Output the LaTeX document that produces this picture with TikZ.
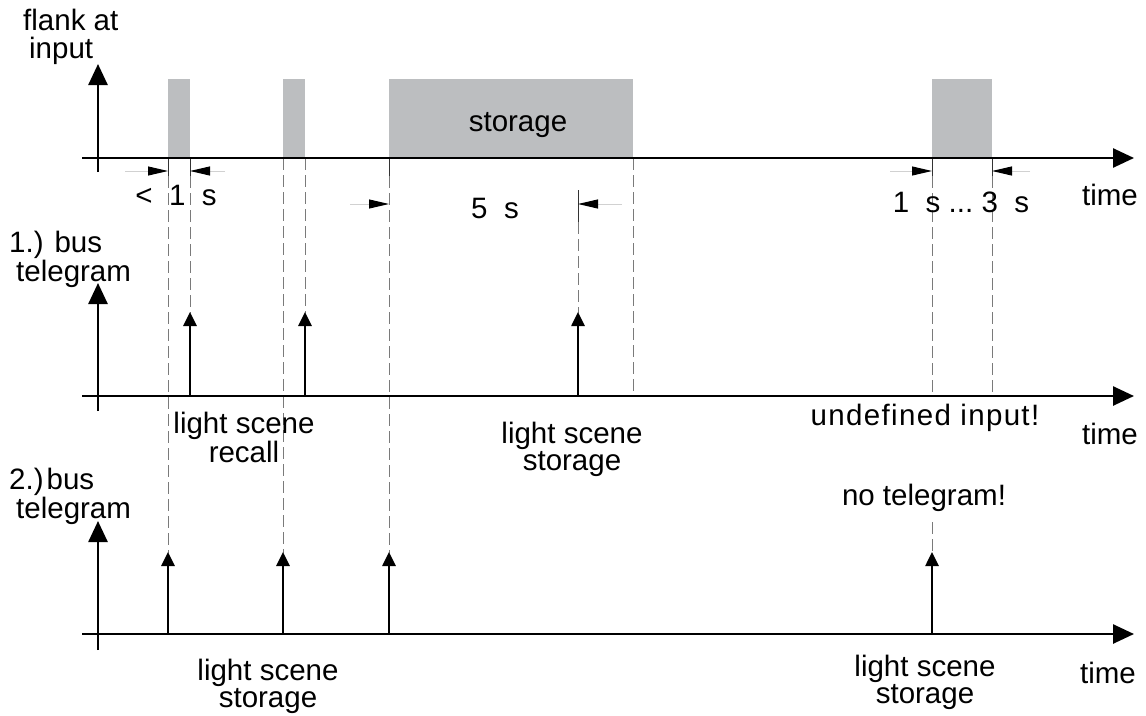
\documentclass[tikz,border=0pt]{standalone}
\usepackage{fontspec}
\setmainfont{Liberation Sans}
\usetikzlibrary{arrows.meta}
\definecolor{pulsegray}{HTML}{BCBEC0}
\definecolor{guidegray}{HTML}{7A7A7A}
\begin{document}
\begin{tikzpicture}[x=1pt,y=-1pt,
  axis/.style={line width=2.6pt,-{Triangle[length=21pt,width=19pt]}},
  spike/.style={line width=2.6pt,-{Triangle[length=14pt,width=13pt]}},
  pulse/.style={fill=pulsegray,draw=none},
  guide/.style={guidegray,line width=0.9pt,dash pattern=on 12pt off 5pt},
  tick/.style={black!80,line width=0.9pt},
  dimarrow/.style={black!18,line width=1pt,-{Triangle[length=20pt,width=9pt,color=black]}},
  lbl/.style={font=\fontsize{29.5}{27}\selectfont,align=center,inner sep=0pt},
  lblw/.style={font=\fontsize{29.5}{27}\selectfont,anchor=base west,inner sep=0pt},
]
\useasboundingbox (0,0) rectangle (1146,715);

% pulses
\fill[pulse] (168,79) rectangle (190,158);
\fill[pulse] (283,79) rectangle (305,158);
\fill[pulse] (389,79) rectangle (633,158);
\fill[pulse] (932,79) rectangle (992,158);
\node[lbl,anchor=base] (stor) at (518,131) {storage};

% guide lines
\draw[guide] (168,176) -- (168,553);
\draw[guide] (190,176) -- (190,313);
\draw[guide] (283,158) -- (283,553);
\draw[guide] (305,158) -- (305,313);
\draw[guide] (389,176) -- (389,553);
\draw[guide] (578,222) -- (578,313);
\draw[guide] (633,158) -- (633,396);
\draw[guide] (932,176) -- (932,396);
\draw[guide] (932,522) -- (932,553);
\draw[guide] (992,176) -- (992,396);

% ticks
\draw[tick] (168,158) -- (168,176);
\draw[tick] (190,158) -- (190,176);
\draw[tick] (389,158) -- (389,176);
\draw[tick] (578,190) -- (578,222);
\draw[tick] (932,158) -- (932,176);
\draw[tick] (992,158) -- (992,176);

% dimension arrows
\coordinate (d1a) at (125,171); \coordinate (d1b) at (168,171);
\coordinate (d2a) at (225,171); \coordinate (d2b) at (190,171);
\coordinate (d3a) at (350,204); \coordinate (d3b) at (389,204);
\coordinate (d4a) at (622,204); \coordinate (d4b) at (578,204);
\coordinate (d5a) at (890,171); \coordinate (d5b) at (932,171);
\coordinate (d6a) at (1030,171); \coordinate (d6b) at (992,171);
\foreach \i in {1,...,6} \draw[dimarrow] (d\i a) -- (d\i b);

% axes
\coordinate (h1a) at (82,158);  \coordinate (h1b) at (1134,158);
\coordinate (h2a) at (82,396);  \coordinate (h2b) at (1134,396);
\coordinate (h3a) at (82,634);  \coordinate (h3b) at (1134,634);
\coordinate (v1a) at (98,172);  \coordinate (v1b) at (98,64);
\coordinate (v2a) at (98,411);  \coordinate (v2b) at (98,283);
\coordinate (v3a) at (98,650);  \coordinate (v3b) at (98,521);
\foreach \i in {1,2,3} {\draw[axis] (h\i a) -- (h\i b); \draw[axis] (v\i a) -- (v\i b);}

% spikes
\foreach \x in {190,305,578} \draw[spike] (\x,396) -- (\x,312);
\foreach \x in {168,283,389,932} \draw[spike] (\x,634) -- (\x,552);

% labels
\node[lblw] (fl1) at (23,30) {flank at};
\node[lblw] (fl2) at (29,58) {input};
\node[lblw] (b11) at (9,252) {1.) bus};
\node[lblw] (b12) at (16,281) {telegram};
\node[lblw] (b21) at (9,489) {2.)\kern3pt bus};
\node[lblw] (b22) at (16,518) {telegram};

\node[lbl,anchor=base] (lt1) at (176,205) {<\ \ 1\ \ s};
\node[lbl,anchor=base] (lt2) at (495,218) {5\ \ s};
\node[lbl,anchor=base] (lt3) at (961,212) {1\ \ s\ ...\ 3\ \ s};

\node[lbl,anchor=base] (t1) at (1110,205) {time};
\node[lbl,anchor=base] (t2) at (1110,444) {time};
\node[lbl,anchor=base] (t3) at (1108,683) {time};

\node[lbl,anchor=base] (r1) at (244,462) {light scene\\recall};
\node[lbl,anchor=base] (r2) at (572,470) {light scene\\storage};
\node[lbl,anchor=base] (u1) at (925,425) {\addfontfeature{LetterSpace=4.5}undefined input!};
\node[lbl,anchor=base] (n1) at (924,505) {no telegram!};
\node[lbl,anchor=base] (s1) at (268,707) {light scene\\storage};
\node[lbl,anchor=base] (s2) at (925,703) {light scene\\storage};
\end{tikzpicture}
\end{document}
